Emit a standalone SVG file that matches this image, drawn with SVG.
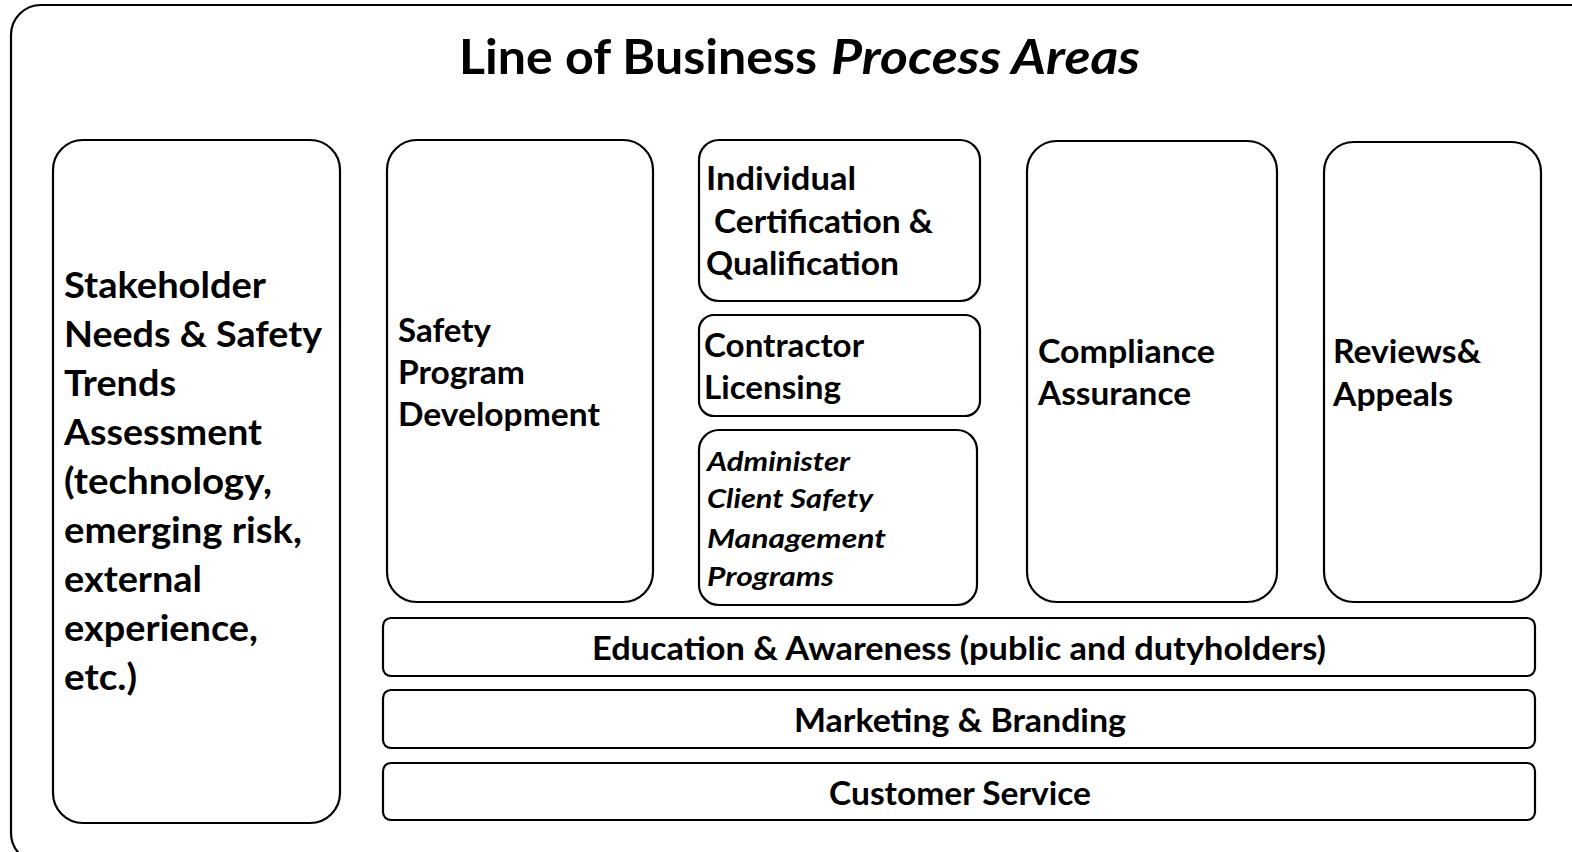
<svg xmlns="http://www.w3.org/2000/svg" width="1572" height="852" viewBox="0 0 1572 852">
<style>
.box{fill:#fff;stroke:#000;stroke-width:2.2}
.t{font-family:Lato,"Open Sans","Liberation Sans",sans-serif;font-weight:bold;fill:#000}
.big{font-size:36px}
.mid{font-size:32px}
.sm{font-size:27px;font-style:italic}
.bar{font-size:32px;text-anchor:middle}
.title{font-size:48px}
</style>
<rect width="1572" height="852" fill="#fff"/>
<g id="frame">
<rect class="box" x="11" y="5" width="1590" height="858" rx="30"/>
<text class="t title" x="459" y="74" textLength="358" lengthAdjust="spacingAndGlyphs">Line of Business</text>
<text class="t title" x="831" y="74" font-style="italic" textLength="309" lengthAdjust="spacingAndGlyphs">Process Areas</text>
</g>
<g id="stakeholder">
<rect class="box" x="53" y="140" width="287" height="683" rx="30"/>
<text class="t big" x="64" y="298" textLength="202" lengthAdjust="spacingAndGlyphs">Stakeholder</text>
<text class="t big" x="64" y="347" textLength="258" lengthAdjust="spacingAndGlyphs">Needs &amp; Safety</text>
<text class="t big" x="64" y="396" textLength="112" lengthAdjust="spacingAndGlyphs">Trends</text>
<text class="t big" x="64" y="445" textLength="198" lengthAdjust="spacingAndGlyphs">Assessment</text>
<text class="t big" x="64" y="494" textLength="208" lengthAdjust="spacingAndGlyphs">(technology,</text>
<text class="t big" x="64" y="543" textLength="238" lengthAdjust="spacingAndGlyphs">emerging risk,</text>
<text class="t big" x="64" y="592" textLength="138" lengthAdjust="spacingAndGlyphs">external</text>
<text class="t big" x="64" y="641" textLength="194" lengthAdjust="spacingAndGlyphs">experience,</text>
<text class="t big" x="64" y="690" textLength="73" lengthAdjust="spacingAndGlyphs">etc.)</text>
</g>
<g id="safety-program">
<rect class="box" x="387" y="140" width="266" height="462" rx="30"/>
<text class="t mid" x="398" y="342" textLength="93" lengthAdjust="spacingAndGlyphs">Safety</text>
<text class="t mid" x="398" y="384" textLength="127" lengthAdjust="spacingAndGlyphs">Program</text>
<text class="t mid" x="398" y="426" textLength="202" lengthAdjust="spacingAndGlyphs">Development</text>
</g>
<g id="individual-certification">
<rect class="box" x="699" y="140" width="281" height="161" rx="20"/>
<text class="t mid" x="706" y="190" textLength="150" lengthAdjust="spacingAndGlyphs">Individual</text>
<text class="t mid" x="714" y="233" textLength="219" lengthAdjust="spacingAndGlyphs">Certification &amp;</text>
<text class="t mid" x="706" y="275" textLength="193" lengthAdjust="spacingAndGlyphs">Qualification</text>
</g>
<g id="contractor-licensing">
<rect class="box" x="699" y="315" width="281" height="101" rx="15"/>
<text class="t mid" x="704" y="357" textLength="160" lengthAdjust="spacingAndGlyphs">Contractor</text>
<text class="t mid" x="704" y="399" textLength="137" lengthAdjust="spacingAndGlyphs">Licensing</text>
</g>
<g id="administer-programs">
<rect class="box" x="699" y="430" width="278" height="175" rx="20"/>
<text class="t sm" x="707" y="471" textLength="143" lengthAdjust="spacingAndGlyphs">Administer</text>
<text class="t sm" x="707" y="508" textLength="166" lengthAdjust="spacingAndGlyphs">Client Safety</text>
<text class="t sm" x="707" y="548" textLength="179" lengthAdjust="spacingAndGlyphs">Management</text>
<text class="t sm" x="707" y="586" textLength="127" lengthAdjust="spacingAndGlyphs">Programs</text>
</g>
<g id="compliance-assurance">
<rect class="box" x="1027" y="141" width="250" height="461" rx="30"/>
<text class="t mid" x="1038" y="363" textLength="177" lengthAdjust="spacingAndGlyphs">Compliance</text>
<text class="t mid" x="1038" y="405" textLength="153" lengthAdjust="spacingAndGlyphs">Assurance</text>
</g>
<g id="reviews-appeals">
<rect class="box" x="1324" y="142" width="217" height="460" rx="30"/>
<text class="t mid" x="1333" y="363" textLength="148" lengthAdjust="spacingAndGlyphs">Reviews&amp;</text>
<text class="t mid" x="1333" y="406" textLength="120" lengthAdjust="spacingAndGlyphs">Appeals</text>
</g>
<g id="education-awareness">
<rect class="box" x="383" y="618" width="1152" height="58" rx="8"/>
<text class="t bar" x="959" y="660" textLength="734" lengthAdjust="spacingAndGlyphs">Education &amp; Awareness (public and dutyholders)</text>
</g>
<g id="marketing-branding">
<rect class="box" x="383" y="690" width="1152" height="58" rx="8"/>
<text class="t bar" x="960" y="732" textLength="332" lengthAdjust="spacingAndGlyphs">Marketing &amp; Branding</text>
</g>
<g id="customer-service">
<rect class="box" x="383" y="763" width="1152" height="57" rx="8"/>
<text class="t bar" x="960" y="805" textLength="262" lengthAdjust="spacingAndGlyphs">Customer Service</text>
</g>
<g id="connectors"/>
</svg>
